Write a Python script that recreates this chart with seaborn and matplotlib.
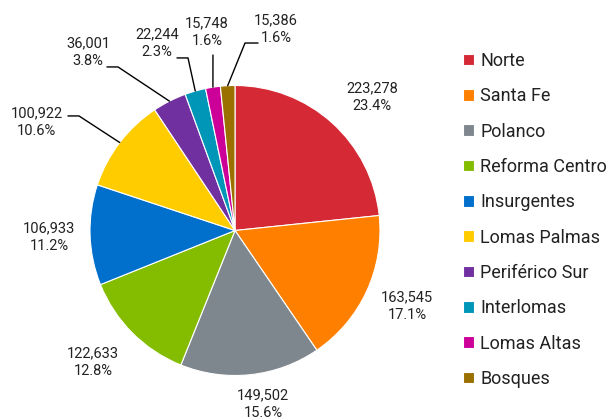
import numpy as np
import matplotlib
matplotlib.use("Agg")
import matplotlib.pyplot as plt
import seaborn as sns

# data
zonas = ['Norte', 'Santa Fe', 'Polanco', 'Reforma Centro', 'Insurgentes',
         'Lomas Palmas', 'Periférico Sur', 'Interlomas', 'Lomas Altas', 'Bosques']
valores = [223278, 163545, 149502, 122633, 106933, 100922, 36001, 22244, 15748, 15386]
colores = ['#d52a35', '#ff8000', '#7f878e', '#84bc00', '#0070cc',
           '#ffcc00', '#7030a0', '#0096b8', '#cc0099', '#9a7000']

# label centres (pie radius = 1)
pos_etiquetas = [(0.945, 0.921), (1.186, -0.521), (0.193, -1.197), (-0.979, -0.907),
                 (-1.283, -0.045), (-1.366, 0.748), (-1.014, 1.231), (-0.538, 1.293),
                 (-0.193, 1.369), (0.283, 1.390)]
# leader line bends, from label towards slice edge
guias = {5: [(-1.152, 0.790), (-1.076, 0.790)],
         6: [(-0.883, 1.128), (-0.807, 1.128)],
         7: [(-0.400, 1.190), (-0.324, 1.190)],
         8: [(-0.152, 1.210)],
         9: [(0.159, 1.293), (0.069, 1.293)]}

sns.set_theme(style="white")
plt.rcParams['font.family'] = ['Roboto', 'DejaVu Sans']
texto = '#222222'

fig = plt.figure(figsize=(6.13, 4.19), dpi=100)
ax = fig.add_axes([0, 0, 470 / 613, 377 / 419])

pal = sns.color_palette(colores)
wedges, _ = ax.pie(valores, colors=pal, startangle=90, counterclock=False,
                   wedgeprops=dict(edgecolor='white', linewidth=0.8))
ax.set_xlim(-235 / 145, 235 / 145)
ax.set_ylim(-1.3, 1.3)
ax.axis('off')

total = sum(valores)
for i, (w, v) in enumerate(zip(wedges, valores)):
    x, y = pos_etiquetas[i]
    ax.text(x, y, f'{v:,}\n{v / total * 100:.1f}%', ha='center', va='center',
            fontsize=10.5, color=texto, linespacing=1.3)
    if i in guias:
        ang = np.deg2rad((w.theta1 + w.theta2) / 2)
        pts = guias[i] + [(np.cos(ang), np.sin(ang))]
        xs, ys = zip(*pts)
        ax.plot(xs, ys, color='black', lw=1, clip_on=False)

leg = fig.legend(wedges, zonas, loc='upper left', bbox_to_anchor=(0.755, 0.876),
                 frameon=False, fontsize=13, handlelength=0.62, handleheight=0.62,
                 handletextpad=0.35, labelspacing=0.96, borderpad=0, borderaxespad=0)
for t in leg.get_texts():
    t.set_color(texto)

fig.savefig('out.png', dpi=100)
